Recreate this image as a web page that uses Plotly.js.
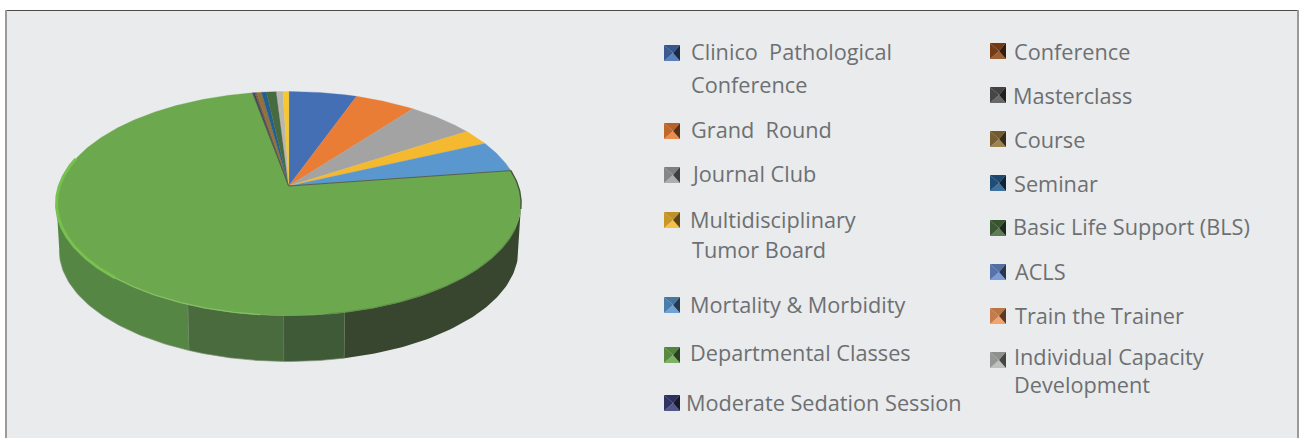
<!DOCTYPE html>
<html>
<head>
<meta charset="utf-8">
<script src="https://cdn.plot.ly/plotly-3.0.1.min.js"></script>
<style>html,body{margin:0;padding:0;background:#fff}#c{width:1299px;height:438px}</style>
</head>
<body>
<div id="c"></div>
<script>
// Data (percent of the pie; the last slice has no legend entry)
const categories = ["Clinico  Pathological\nConference","Grand  Round","Journal Club","Multidisciplinary\nTumor Board","Mortality & Morbidity","Departmental Classes","Moderate Sedation Session","Conference","Masterclass","Course","Seminar","Basic Life Support (BLS)","ACLS","Train the Trainer","Individual Capacity<br>Development",""];
const values = [5.5,4.9,5.5,2.3,4.5,74.4,0.17,0.07,0.07,0.4,0.4,0.8,0.03,0.03,0.47,0.47];
const colors = ["#456fb5","#ea7d35","#a3a3a3","#f4b92f","#5b97cf","#6ca84e","#3a3f78","#8f4a1a","#555555","#91733a","#255e91","#466b3e","#698ed0","#f1975a","#b5b8b4","#f8c72e"];

// Legend placement (left column then right column): swatch left/top, one text row per line
const swatchX = [664,664,664,664,664,664,664,990,990,990,990,990,990,990,990];
const swatchY = [45,123,167,212,297,347,395,43,87,131,175,220,264,308,352];
const labelX  = [[690,690],[690],[690],[689,691],[689],[689],[685],[1013],[1012],[1013],[1013],[1012],[1014],[1014],[1013]];
const labelY  = [[51,84],[129],[173],[219,249],[304],[352],[402],[51],[95],[139],[183],[226],[271],[315],[370]];

// Pie drawing parameters
const cx=288.8, cy=203.5, rx=232.3, ry=112;      // top rim ellipse
const bcx=288.8, bcy=250.5, brx=229.5, bry=111;  // bottom rim ellipse
const beta=-0.156;                               // perspective: moves the apex off the ellipse centre
const wallX=[188,284,345];
const wallColors=["#558644","#4a6b3e","#3f5a36","#38452f"];

const total=values.reduce((a,b)=>a+b,0);
function rim(phiDeg){
  // clockwise angle from the top of the disc -> perspective projected rim point
  const p=phiDeg*Math.PI/180, s=-Math.cos(p), c=Math.sin(p);
  const d=1+beta*s;
  return [cx+rx*c*Math.sqrt(1-beta*beta)/d, cy+ry*(s+beta)/d];
}
const apex=[cx,cy+beta*ry];
const traces=[];

// Side wall
const tOf=x=>Math.acos((x-cx)/rx);
const bounds=[Math.PI].concat(wallX.map(tOf)).concat([0]);
for(let i=0;i<wallColors.length;i++){
  const xs=[],ys=[],a=bounds[i],b=bounds[i+1],n=60;
  for(let k=0;k<=n;k++){const t=a+(b-a)*k/n;xs.push(cx+rx*Math.cos(t));ys.push(cy+ry*Math.sin(t));}
  for(let k=n;k>=0;k--){const t=a+(b-a)*k/n;xs.push(bcx+brx*Math.cos(t));ys.push(bcy+bry*Math.sin(t));}
  traces.push({type:"scatter",mode:"lines",x:xs,y:ys,fill:"toself",fillcolor:wallColors[i],line:{color:i<3?"#7f9477":wallColors[i],width:i<3?0.7:0},hoverinfo:"skip"});
}

// Top face slices
let acc=0; const edges=[];
values.forEach((v,i)=>{
  const a=acc/total*360, b=(acc+v)/total*360; acc+=v; edges.push(a);
  const xs=[apex[0]],ys=[apex[1]],n=Math.max(2,Math.ceil(b-a)*2);
  for(let k=0;k<=n;k++){const q=rim(a+(b-a)*k/n);xs.push(q[0]);ys.push(q[1]);}
  xs.push(apex[0]);ys.push(apex[1]);
  traces.push({type:"scatter",mode:"lines",name:categories[i].replace(/\n|<br>/," "),x:xs,y:ys,fill:"toself",fillcolor:colors[i],
    line:{color:colors[i],width:0.3},hoveron:"fills",hoverinfo:"name"});
});

// Dark edges of the main slice and rim highlight
function rimLine(a,b,color,width){
  const xs=[],ys=[],n=Math.ceil(Math.abs(b-a))*2;
  for(let k=0;k<=n;k++){const q=rim(a+(b-a)*k/n);xs.push(q[0]);ys.push(q[1]);}
  traces.push({type:"scatter",mode:"lines",x:xs,y:ys,line:{color:color,width:width},hoverinfo:"skip"});
}
const depStart=edges[5], depEnd=edges[6];
[depStart,depEnd].forEach(e=>{const q=rim(e);
  traces.push({type:"scatter",mode:"lines",x:[apex[0],q[0]],y:[apex[1],q[1]],line:{color:"#55604f",width:1},hoverinfo:"skip"});});
rimLine(depStart,depStart+20,"#47553f",1.4);
rimLine(depStart+30,depStart+90,"#5f9148",1.2);
rimLine(186,222,"#86bf63",1.3);
rimLine(222,285,"#78c04f",3);

// Legend swatches
const shapes=[
  {type:"rect",xref:"x",yref:"y",x0:6,x1:1297,y0:10,y1:438,fillcolor:"#e9ebed",line:{width:0},layer:"below"},
  {type:"line",xref:"x",yref:"y",x0:5,x1:1298,y0:10.5,y1:10.5,line:{color:"#4a4a4a",width:1},layer:"below"},
  {type:"line",xref:"x",yref:"y",x0:6,x1:6,y0:10,y1:438,line:{color:"#9a9a9a",width:2},layer:"below"},
  {type:"line",xref:"x",yref:"y",x0:1298,x1:1298,y0:10,y1:438,line:{color:"#9a9a9a",width:2},layer:"below"}
];
function shade(hex,f){
  const n=parseInt(hex.slice(1),16),r=n>>16,g=(n>>8)&255,b=n&255;
  const m=c=>Math.round(f<1?c*f:c+(255-c)*(f-1));
  return `rgb(${m(r)},${m(g)},${m(b)})`;
}
const swatchSize=16;
swatchX.forEach((x,i)=>{
  const y=swatchY[i], s=swatchSize, mx=x+s/2+1, my=y+s/2;
  const tri=(p,f)=>shapes.push({type:"path",xref:"x",yref:"y",path:`M${p[0]},${p[1]}L${p[2]},${p[3]}L${mx},${my}Z`,fillcolor:shade(colors[i],f),line:{width:0},layer:"above"});
  tri([x,y,x+s,y],0.78);
  tri([x,y+s,x+s,y+s],1.12);
  tri([x,y,x,y+s],0.82);
  tri([x+s,y,x+s,y+s],0.38);
});

// Legend text
const annotations=[];
categories.slice(0,15).forEach((c,i)=>{
  c.split("\n").forEach((line,j)=>{
    annotations.push({xref:"x",yref:"y",x:labelX[i][j],y:labelY[i][j],xanchor:"left",yanchor:"middle",showarrow:false,
      text:line.replace(/  /g,"\u00a0 "),font:{family:"Open Sans, Noto Sans, sans-serif",size:21.7,color:"#6d7072"},borderpad:0,align:"left"});
  });
});

Plotly.newPlot("c",traces,{
  width:1299,height:438,margin:{l:0,r:0,t:0,b:0},paper_bgcolor:"#ffffff",plot_bgcolor:"rgba(0,0,0,0)",showlegend:false,
  xaxis:{range:[0,1299],visible:false,fixedrange:true},
  yaxis:{range:[438,0],visible:false,fixedrange:true},
  shapes:shapes,annotations:annotations
},{displayModeBar:false,responsive:false});
</script>
</body>
</html>
